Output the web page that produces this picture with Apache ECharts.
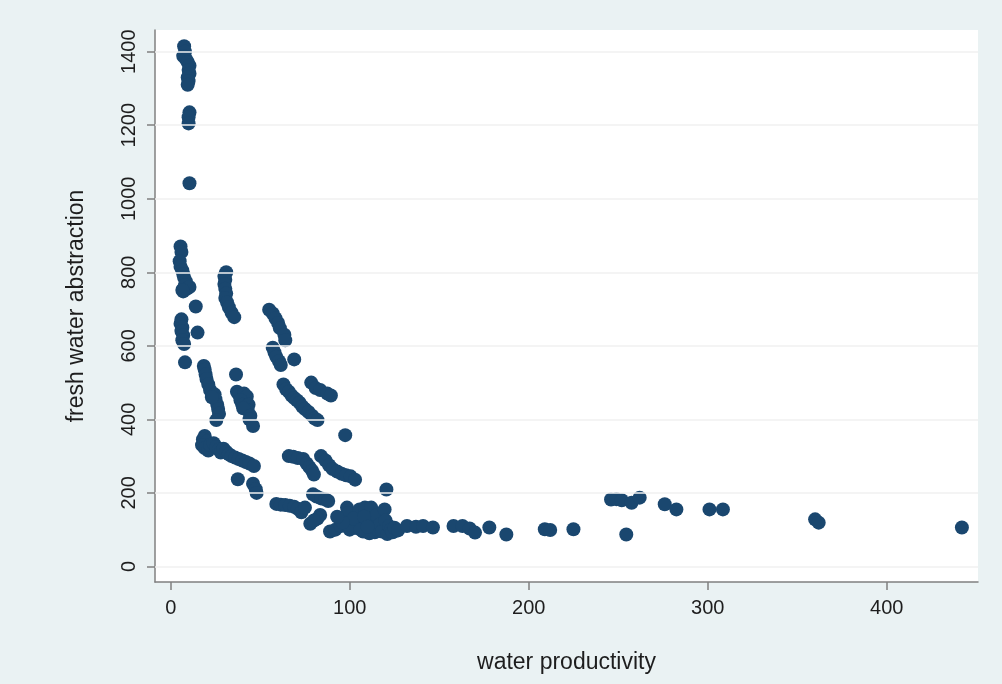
<!DOCTYPE html>
<html>
<head>
<meta charset="utf-8">
<script src="https://cdn.jsdelivr.net/npm/echarts@6/dist/echarts.min.js"></script>
<style>
html,body{margin:0;padding:0;background:#eaf2f3;}
#chart{width:1002px;height:684px;}
</style>
</head>
<body>
<div id="chart"></div>
<script>
var xTicks = [0, 100, 200, 300, 400];
var yTicks = [0, 200, 400, 600, 800, 1000, 1200, 1400];
var xTitle = "water productivity";
var yTitle = "fresh water abstraction";

var clusterA = [[7.5,1415],[8,1400],[7,1388],[8.5,1380],[9.5,1372],[10.5,1362],[10,1350],[10.5,1340],[9.5,1330],[10,1320],[9.5,1310],[10.5,1235],[10,1222],[10,1205],[10.5,1042]];
var clusterB = [[5.5,870],[6,855],[5,830],[5.5,815],[6.5,805],[7,795],[7.5,785],[8.5,775],[8,765],[9,755],[10.5,760],[7,748],[6.5,752],[14,707],[6,672],[5.5,660],[6.5,650],[6,640],[7,628],[6.5,615],[7.5,605],[15,636],[8,555]];
var clusterC = [[18.5,545],[19,535],[19.5,522],[20,510],[21,495],[22,480],[24.5,468],[25,455],[26,440],[26.5,428],[27,415],[25.5,398],[23,460]];
var clusterD = [[31,800],[30,790],[30.5,780],[30,768],[30.5,755],[31,742],[30.5,730],[31.5,718],[32.5,705],[34,690],[35.5,678]];
var clusterE = [[36.5,522],[37,475],[38,468],[41,470],[42.5,462],[39,452],[40,440],[43.5,440],[43,425],[40.5,430],[44.5,410],[44,400],[46,382]];
var clusterF = [[19,355],[18,345],[20,340],[17.5,330],[19,322],[21,315],[22,330],[24,335],[25.5,325],[27,318],[28,310],[29.5,320],[31,312],[32.5,305],[34,300],[36,296],[38,292],[40,288],[42,284],[44,280],[46.5,273],[37.5,237],[46,225],[47.5,210],[48,200]];
var clusterG = [[55,698],[57,688],[58.5,675],[60,662],[61,648],[63.5,630],[64,615],[57,595],[58,582],[59,570],[60.5,558],[61.5,548],[69,563],[63,495],[64.5,482],[66,475],[67.5,465],[69,458],[70.5,452],[72,445],[73.5,435],[75,428],[77,420],[79,410],[80.5,402],[82,398],[78.5,500],[81,485],[83.5,480],[87.5,470],[89.5,465]];
var clusterH = [[66,300],[68.5,298],[71,295],[74,292],[76,280],[77.5,270],[79,260],[80,250],[84,300],[86.5,288],[88.5,275],[90.5,265],[93,258],[95.5,252],[98,248],[100.5,245],[103,236],[97.5,357],[120.5,209]];
var clusterI = [[59,170],[61.5,168],[64,167],[66.5,165],[69,162],[71,157],[73,147],[75,160]];
var clusterJ = [[79.5,196],[81.5,190],[84,185],[86.5,182],[88,178],[83.5,140],[82,130],[78,116],[80,125],[89,95],[92,100],[95,110],[97,130],[98.5,160],[99,145],[101,120],[103,105],[104,112],[105.5,155],[106,125],[107.5,95],[108.5,160],[109,100],[110,118],[111,90],[112,160],[112.5,130],[113.5,105],[114,93],[115,140],[115.5,100],[117,115],[118,95],[119.5,155],[120,125],[121,88],[122,110],[123,100],[124,93],[125,105],[127,98],[100,100],[102,130],[106,100],[108,135],[110,108],[96,120],[93,135]];
var clusterK = [[132,110],[137,108],[141,110],[146.5,106],[158,110],[163,110],[167,103],[170,92],[178,106],[187.5,87],[209,101],[212,99],[225,101],[246,182],[249,183],[252,180],[257.5,173],[262,187],[254.5,87],[276,169],[282.5,155],[301,155],[308.5,155],[360,128],[362,119],[442,106]];

var points = [].concat(clusterA, clusterB, clusterC, clusterD, clusterE, clusterF, clusterG, clusterH, clusterI, clusterJ, clusterK);

var chart = echarts.init(document.getElementById('chart'), null, {renderer: 'canvas'});
var textColor = '#1e1e1e';
var fontFam = '"Liberation Sans", Arial, sans-serif';
chart.setOption({
  backgroundColor: '#eaf2f3',
  animation: false,
  grid: {left: 155, right: 24, top: 30, bottom: 102, show: true, backgroundColor: '#ffffff', borderWidth: 0},
  xAxis: {
    type: 'value', min: -8.77, max: 451,
    name: xTitle, nameLocation: 'middle', nameGap: 69,
    nameTextStyle: {color: textColor, fontSize: 23, fontFamily: fontFam},
    axisLine: {show: true, onZero: false, lineStyle: {color: '#808080', width: 1.5}},
    axisTick: {show: true, length: 8, customValues: xTicks, lineStyle: {color: '#808080', width: 1.5}},
    axisLabel: {customValues: xTicks, margin: 16, color: textColor, fontSize: 20, fontFamily: fontFam,
      formatter: function (v) { return String(v); }},
    splitLine: {show: false}
  },
  yAxis: {
    type: 'value', min: -42.4, max: 1459,
    name: yTitle, nameLocation: 'middle', nameGap: 67, nameRotate: 90,
    nameTextStyle: {color: textColor, fontSize: 23, fontFamily: fontFam},
    axisLine: {show: true, onZero: false, lineStyle: {color: '#808080', width: 1.5}},
    axisTick: {show: true, length: 8, customValues: yTicks, lineStyle: {color: '#808080', width: 1.5}},
    axisLabel: {customValues: yTicks, rotate: 90, margin: 16, color: textColor, fontSize: 20, fontFamily: fontFam,
      formatter: function (v) { return String(v); }},
    splitLine: {show: false}
  },
  series: [
    {
      type: 'scatter', data: [], z: 1, silent: true,
      markLine: {
        silent: true, symbol: ['none', 'none'], label: {show: false},
        lineStyle: {color: '#f0f0f0', width: 1.5, type: 'solid'},
        data: yTicks.map(function (v) { return {yAxis: v}; })
      }
    },
    {
      type: 'scatter', data: points, z: 3,
      symbol: 'circle', symbolSize: 14,
      itemStyle: {color: '#1a476f', opacity: 1}
    }
  ]
});
</script>
</body>
</html>
